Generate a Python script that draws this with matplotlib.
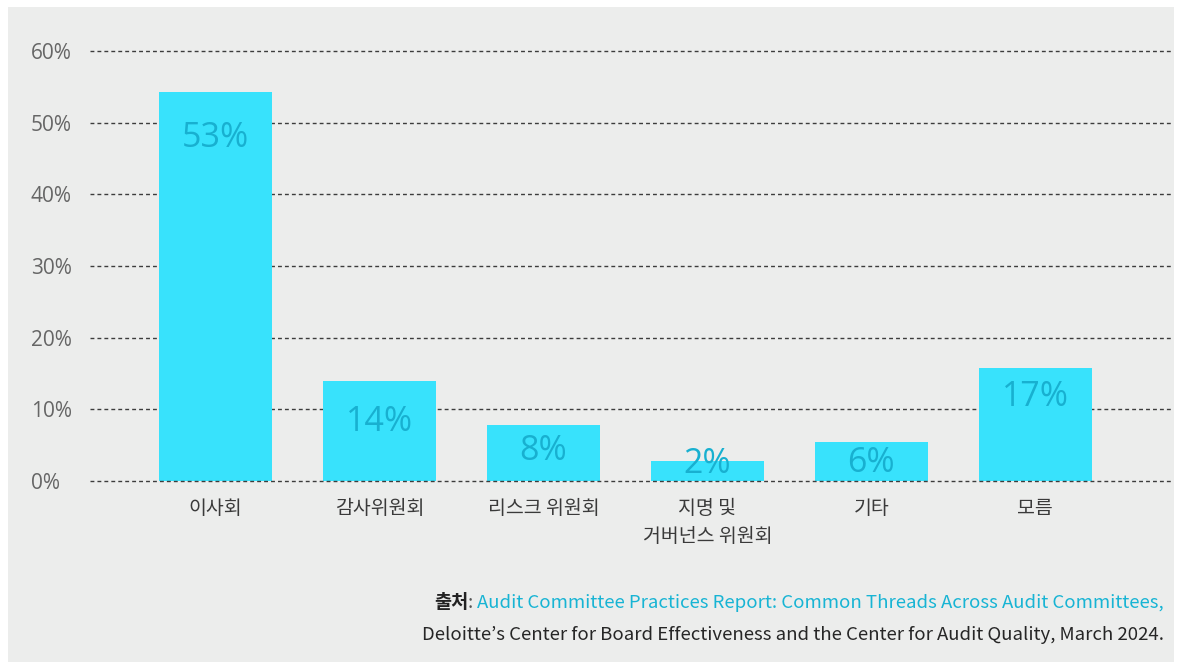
import matplotlib
matplotlib.use("Agg")
import matplotlib.pyplot as plt
from matplotlib.patches import Rectangle

# ---- data ----
categories = ["이사회", "감사위원회", "리스크 위원회", "지명 및\n거버넌스 위원회", "기타", "모름"]
bar_values = [54.3, 13.95, 7.8, 2.8, 5.4, 15.8]
value_labels = ["53%", "14%", "8%", "2%", "6%", "17%"]
y_ticks = [0, 10, 20, 30, 40, 50, 60]
y_tick_labels = ["0%", "10%", "20%", "30%", "40%", "50%", "60%"]
source_label = "출처"
source_title = "Audit Committee Practices Report: Common Threads Across Audit Committees,"
source_line2 = "Deloitte’s Center for Board Effectiveness and the Center for Audit Quality, March 2024."

# ---- style ----
KR = "Noto Sans CJK KR"
LAT = "Open Sans"
plt.rcParams['font.family'] = [KR, 'DejaVu Sans']

BG = "#ecedec"
BAR = "#38e2fc"
LABEL_IN = "#18b0d0"
GRID = "#3c3c3c"
CYAN_TXT = "#17b4d4"
FS_SRC = 13.4

W, H = 1177, 662
fig = plt.figure(figsize=(W / 100, H / 100), dpi=100)
fig.patch.set_facecolor("white")
fig.add_artist(Rectangle((8 / W, 0), 1166 / W, 655 / H, transform=fig.transFigure,
                         facecolor=BG, edgecolor="none", zorder=-10))

ax = fig.add_axes([90 / W, (H - 481) / H, (1173 - 90) / W, (481 - 51) / H])
ax.set_facecolor("none")
for s in ax.spines.values():
    s.set_visible(False)

x = list(range(len(categories)))
ax.bar(x, bar_values, width=0.69, color=BAR, zorder=2)
ax.set_xlim(-0.765, 5.84)
ax.set_ylim(0, 60)

for yv in y_ticks:
    ax.axhline(yv, color=GRID, lw=1.0, dashes=(2.8, 2.2),
               zorder=3 if yv == 0 else 1, clip_on=False)

ax.set_yticks(y_ticks)
ax.set_yticklabels(y_tick_labels, fontsize=15, color="#666666", ha="left",
                   family=[LAT, KR])
ax.tick_params(axis="y", length=0, pad=42.5)
ax.set_xticks(x)
ax.set_xticklabels(categories, fontsize=14, color="#3a3a3a", linespacing=1.45)
ax.tick_params(axis="x", length=0, pad=12)

# in-bar value labels (offsets in pixels below the bar top)
label_drop_px = [46, 41, 26, 3, 21, 29]
for xi, v, lab, d in zip(x, bar_values, value_labels, label_drop_px):
    ax.annotate(lab, xy=(xi, v), xytext=(0, -d * 0.72), textcoords="offset points",
                ha="center", va="center", fontsize=24.5, color=LABEL_IN,
                fontweight="normal", family=[LAT, KR], zorder=4)

# source text
t1 = fig.text(1164 / W, (H - 603) / H, source_title, ha="right", va="center",
              fontsize=FS_SRC, color=CYAN_TXT)
colon = ax.annotate(": ", xy=(0, 0), xycoords=t1, ha="right", va="bottom",
                    fontsize=FS_SRC, color="#555555", annotation_clip=False)
ax.annotate(source_label, xy=(0, 0), xycoords=colon, ha="right", va="bottom",
            fontsize=FS_SRC, color="#222222", fontweight="bold",
            annotation_clip=False)
fig.text(1164 / W, (H - 635) / H, source_line2, ha="right", va="center",
         fontsize=FS_SRC, color="#262626")

fig.savefig("out.png", dpi=100, facecolor=fig.get_facecolor())
